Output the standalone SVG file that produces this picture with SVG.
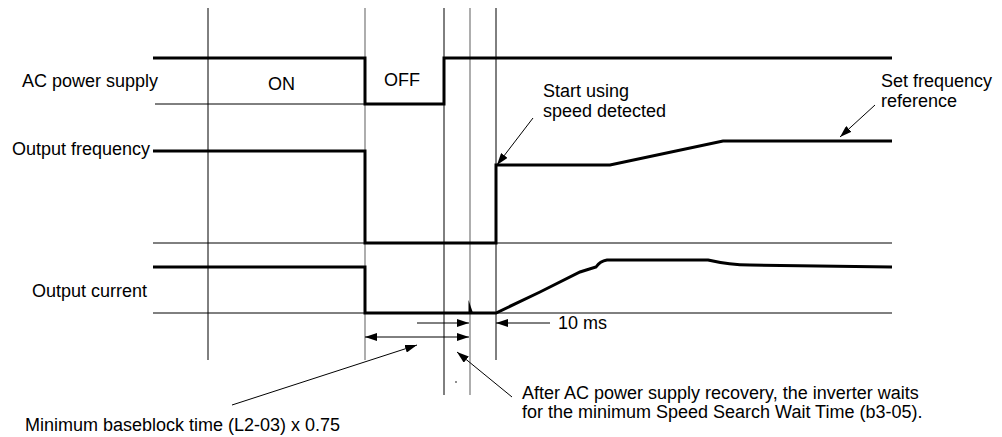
<svg xmlns="http://www.w3.org/2000/svg" width="1002" height="437" viewBox="0 0 1002 437">
<style>
text{font-family:"Liberation Sans",Arial,sans-serif;font-size:18px;fill:#000}
.thin{stroke:#000;stroke-width:1;fill:none}
.gray{stroke:#777;stroke-width:1.2;fill:none}
.thick{stroke:#000;stroke-width:3;fill:none;stroke-linejoin:miter}
.arr{stroke:#000;stroke-width:1;fill:none}
</style>
<defs>
<marker id="ah" viewBox="0 0 12 8" refX="12" refY="4" markerWidth="12" markerHeight="8" markerUnits="userSpaceOnUse" orient="auto">
<path d="M0,0 L12,4 L0,8 Z" fill="#000"/>
</marker>
<marker id="ahs" viewBox="0 0 12 8" refX="0" refY="4" markerWidth="12" markerHeight="8" markerUnits="userSpaceOnUse" orient="auto">
<path d="M12,0 L0,4 L12,8 Z" fill="#000"/>
</marker>
</defs>
<rect width="1002" height="437" fill="#fff"/>
<g id="grid">
<line class="thin" x1="208" y1="8" x2="208" y2="360"/>
<line class="gray" x1="365" y1="8" x2="365" y2="360"/>
<line class="thin" x1="444" y1="8" x2="444" y2="395"/>
<line class="gray" x1="470" y1="8" x2="470" y2="395"/>
<line class="thin" x1="496" y1="8" x2="496" y2="360"/>
<line class="thin" x1="155" y1="104" x2="365" y2="104"/>
<line class="thin" x1="153" y1="243" x2="892" y2="243"/>
<line class="thin" x1="153" y1="313" x2="892" y2="313"/>
</g>
<g id="ac-power-supply">
<path class="thick" d="M153,58 H365 V104 H444 V58 H892"/>
<text x="22" y="87">AC power supply</text>
<text x="268" y="90">ON</text>
<text x="384" y="86">OFF</text>
</g>
<g id="output-frequency">
<path class="thick" d="M153,151 H365 V243 H496 V165 H610 L723,141 H892"/>
<text x="12" y="155">Output frequency</text>
</g>
<g id="output-current">
<path class="thick" d="M153,267 H365 V313 H496 L540,292 L580,272 L596,267 Q600,261 607,260 L708,260 Q730,265 750,265 L892,267"/>
<path d="M468.5,313 V300 L473,313 Z" fill="#000"/>
<text x="32" y="297">Output current</text>
</g>
<g id="labels">
<text x="543" y="97">Start using</text>
<text x="543" y="117">speed detected</text>
<text x="881" y="87">Set frequency</text>
<text x="881" y="107">reference</text>
<text x="558" y="329">10 ms</text>
<text x="522" y="399">After AC power supply recovery, the inverter waits</text>
<text x="522" y="418">for the minimum Speed Search Wait Time (b3-05).</text>
<text x="25" y="431">Minimum baseblock time (L2-03) x 0.75</text>
</g>
<g id="connectors">
<line class="arr" x1="533" y1="118" x2="497" y2="165" marker-end="url(#ah)"/>
<line class="arr" x1="875" y1="105" x2="840" y2="137" marker-end="url(#ah)"/>
<line class="arr" x1="550" y1="323" x2="496" y2="323" marker-end="url(#ah)"/>
<line class="arr" x1="417" y1="323" x2="469" y2="323" marker-end="url(#ah)"/>
<line class="arr" x1="365" y1="337" x2="469" y2="337" marker-start="url(#ahs)" marker-end="url(#ah)"/>
<line class="arr" x1="232" y1="405" x2="417" y2="345" marker-end="url(#ah)"/>
<line class="arr" x1="512" y1="397" x2="457" y2="352" marker-end="url(#ah)"/>
<circle cx="456" cy="382" r="0.8" fill="#000"/>
</g>
</svg>
